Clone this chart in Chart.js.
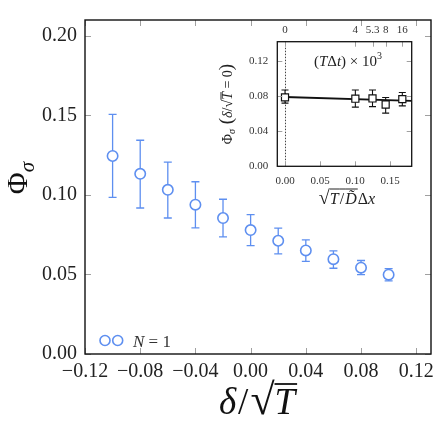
<!DOCTYPE html>
<html><head><meta charset="utf-8">
<script src="https://cdn.jsdelivr.net/npm/chart.js@4/dist/chart.umd.min.js"></script>
<style>
html,body{margin:0;padding:0;background:#fff;}
#wrap{position:relative;width:443px;height:433px;overflow:hidden;}
#main{position:absolute;left:0;top:0;}
#inset{position:absolute;left:200px;top:15px;}
</style></head><body>
<div id="wrap">
<canvas id="main" width="443" height="433"></canvas>
<canvas id="inset" width="230" height="200"></canvas>
</div>
<script>
// ---------- main panel data ----------
const delta = [-0.10, -0.08, -0.06, -0.04, -0.02, 0.00, 0.02, 0.04, 0.06, 0.08, 0.10];
const phi   = [0.1245, 0.1133, 0.1032, 0.0939, 0.0855, 0.0779, 0.0712, 0.0651, 0.0596, 0.0543, 0.0499];
const phiHi = [0.1506, 0.1344, 0.1206, 0.1083, 0.0973, 0.0876, 0.0791, 0.0718, 0.0648, 0.0588, 0.0537];
const phiLo = [0.0985, 0.0918, 0.0855, 0.0793, 0.0736, 0.0681, 0.0630, 0.0582, 0.0539, 0.0499, 0.0460];
const xTicks = [-0.12, -0.08, -0.04, 0.00, 0.04, 0.08, 0.12];
const xTickLabels = ["\u22120.12", "\u22120.08", "\u22120.04", "0.00", "0.04", "0.08", "0.12"];
const yTicks = [0.00, 0.05, 0.10, 0.15, 0.20];
const yTickLabels = ["0.00", "0.05", "0.10", "0.15", "0.20"];
const seriesLabel = "N = 1";

// ---------- inset data ----------
const insetX  = [0.000, 0.1005, 0.125, 0.1438, 0.1676];
const insetY  = [0.0785, 0.0770, 0.0773, 0.0704, 0.0766];
const insetHi = [0.0870, 0.0869, 0.0869, 0.0784, 0.0841];
const insetLo = [0.0720, 0.0674, 0.0680, 0.0606, 0.0689];
const insetTopLabels = ["0", "4", "5.3", "8", "16"];
const fitX = [0.000, 0.181];
const fitY = [0.0790, 0.0745];
const refLineX = 0;
const insetXTicks = [0.00, 0.05, 0.10, 0.15];
const insetXTickLabels = ["0.00", "0.05", "0.10", "0.15"];
const insetYTicks = [0.00, 0.04, 0.08, 0.12];
const insetYTickLabels = ["0.00", "0.04", "0.08", "0.12"];

const FONT = "'Liberation Serif', 'Times New Roman', serif";
const BLUE = '#5e8ff0';
const TICKC = '#a0a0a0';

function drawRich(ctx, segs, x, y, rot) {
  ctx.save();
  ctx.translate(x, y);
  ctx.rotate(rot);
  ctx.textAlign = 'left';
  ctx.textBaseline = 'alphabetic';
  let total = 0;
  segs.forEach(s => { ctx.font = s.font; s.w = ctx.measureText(s.text).width + (s.gap || 0); total += s.w; });
  let cx = -total / 2;
  const overs = [];
  segs.forEach(s => {
    ctx.font = s.font;
    ctx.fillText(s.text, cx, s.dy || 0);
    if (s.over !== undefined) overs.push([cx, cx + s.w, s.over]);
    cx += s.w;
  });
  overs.forEach(o => {
    ctx.beginPath(); ctx.moveTo(o[0], o[2]); ctx.lineTo(o[1], o[2]); ctx.stroke();
  });
  ctx.restore();
}

// ---------- main chart plugins ----------
const mainPlugin = {
  id: 'mainDeco',
  beforeDatasetsDraw(chart) {
    const {ctx, scales: {x, y}} = chart;
    ctx.save();
    ctx.strokeStyle = BLUE; ctx.lineWidth = 1.3;
    delta.forEach((d, i) => {
      const px = x.getPixelForValue(d);
      const pt = y.getPixelForValue(phiHi[i]);
      const pb = y.getPixelForValue(phiLo[i]);
      ctx.beginPath();
      ctx.moveTo(px, pt); ctx.lineTo(px, pb);
      ctx.moveTo(px - 4, pt); ctx.lineTo(px + 4, pt);
      ctx.moveTo(px - 4, pb); ctx.lineTo(px + 4, pb);
      ctx.stroke();
    });
    ctx.restore();
  },
  afterDraw(chart) {
    const {ctx, chartArea: a, scales: {x, y}} = chart;
    ctx.save();
    // inward tick marks
    ctx.strokeStyle = TICKC; ctx.lineWidth = 1;
    xTicks.forEach(v => {
      const px = Math.round(x.getPixelForValue(v)) + 0.5;
      ctx.beginPath();
      ctx.moveTo(px, a.bottom); ctx.lineTo(px, a.bottom - 6);
      ctx.moveTo(px, a.top); ctx.lineTo(px, a.top + 6);
      ctx.stroke();
    });
    yTicks.forEach(v => {
      const py = Math.round(y.getPixelForValue(v)) + 0.5;
      ctx.beginPath();
      ctx.moveTo(a.left, py); ctx.lineTo(a.left + 6, py);
      ctx.moveTo(a.right, py); ctx.lineTo(a.right - 6, py);
      ctx.stroke();
    });
    // frame
    ctx.strokeStyle = '#111'; ctx.lineWidth = 1.4;
    ctx.strokeRect(a.left, a.top, a.right - a.left, a.bottom - a.top);
    // legend
    const ly = a.bottom - 13.5;
    ctx.strokeStyle = BLUE; ctx.lineWidth = 1.6; ctx.fillStyle = '#fff';
    [a.left + 20, a.left + 32.7].forEach(cx => {
      ctx.beginPath(); ctx.arc(cx, ly, 5, 0, Math.PI * 2); ctx.fill(); ctx.stroke();
    });
    ctx.fillStyle = '#333';
    ctx.textAlign = 'left'; ctx.textBaseline = 'alphabetic';
    const parts = seriesLabel.split(' ');
    ctx.font = "italic 17px " + FONT;
    ctx.fillText(parts[0], a.left + 48, ly + 6.5);
    const wN = ctx.measureText(parts[0]).width;
    ctx.font = "17px " + FONT;
    ctx.fillText(' ' + parts.slice(1).join(' '), a.left + 48 + wN, ly + 6.5);
    // axis titles
    ctx.fillStyle = '#111'; ctx.strokeStyle = '#111'; ctx.lineWidth = 1.8;
    drawRich(ctx, [
      {text: 'δ', font: "italic 37px " + FONT, gap: 2},
      {text: '/', font: "37px " + FONT, gap: 2},
      {text: '√', font: "44px " + FONT},
      {text: 'T', font: "italic 37px " + FONT, over: -30, gap: 2}
    ], 258, 414, 0);
    drawRich(ctx, [
      {text: 'Φ', font: "30px " + FONT},
      {text: 'σ', font: "italic 21px " + FONT, dy: 7}
    ], 27, (a.top + a.bottom) / 2 - 9, -Math.PI / 2);
    ctx.restore();
  }
};

new Chart(document.getElementById('main'), {
  type: 'scatter',
  data: {
    datasets: [{
      label: seriesLabel,
      data: delta.map((d, i) => ({x: d, y: phi[i]})),
      pointStyle: 'circle',
      pointRadius: 5.2,
      pointBorderWidth: 1.6,
      pointBorderColor: BLUE,
      pointBackgroundColor: '#fff',
      showLine: false
    }]
  },
  options: {
    responsive: false, animation: false, devicePixelRatio: 1,
    layout: {padding: {left: 0, right: 12, top: 9, bottom: 0}},
    plugins: {legend: {display: false}, tooltip: {enabled: false}},
    scales: {
      x: {
        type: 'linear', min: -0.12, max: 0.1307,
        afterFit(s) { s.height = 79; },
        afterBuildTicks(s) { s.ticks = xTicks.map(v => ({value: v})); },
        ticks: {callback: (v, i) => xTickLabels[i], font: {family: FONT, size: 20}, color: '#222', padding: 6, maxRotation: 0, minRotation: 0, autoSkip: false},
        grid: {display: false, drawTicks: false},
        border: {display: false}
      },
      y: {
        type: 'linear', min: 0, max: 0.21,
        afterFit(s) { s.width = 85; },
        afterBuildTicks(s) { s.ticks = yTicks.map(v => ({value: v})); },
        ticks: {callback: (v, i) => yTickLabels[i], font: {family: FONT, size: 20}, color: '#222', padding: 8, autoSkip: false},
        grid: {display: false, drawTicks: false},
        border: {display: false}
      }
    }
  },
  plugins: [mainPlugin]
});

// ---------- inset ----------
const insetPlugin = {
  id: 'insetDeco',
  beforeDraw(chart) {
    const {ctx, chartArea: a} = chart;
    ctx.save(); ctx.fillStyle = '#fff';
    ctx.fillRect(a.left, a.top, a.right - a.left, a.bottom - a.top);
    ctx.restore();
  },
  beforeDatasetsDraw(chart) {
    const {ctx, chartArea: a, scales: {x, y}} = chart;
    ctx.save();
    // dotted reference line
    ctx.strokeStyle = '#444'; ctx.lineWidth = 1; ctx.setLineDash([1.5, 1.5]);
    const rx = Math.round(x.getPixelForValue(refLineX)) + 0.5;
    ctx.beginPath(); ctx.moveTo(rx, a.top); ctx.lineTo(rx, a.bottom); ctx.stroke();
    ctx.setLineDash([]);
    // error bars
    ctx.strokeStyle = '#111'; ctx.lineWidth = 1.1;
    insetX.forEach((v, i) => {
      const px = x.getPixelForValue(v);
      const pt = y.getPixelForValue(insetHi[i]);
      const pb = y.getPixelForValue(insetLo[i]);
      ctx.beginPath();
      ctx.moveTo(px, pt); ctx.lineTo(px, pb);
      ctx.moveTo(px - 3.5, pt); ctx.lineTo(px + 3.5, pt);
      ctx.moveTo(px - 3.5, pb); ctx.lineTo(px + 3.5, pb);
      ctx.stroke();
    });
    ctx.restore();
  },
  afterDraw(chart) {
    const {ctx, chartArea: a, scales: {x, y}} = chart;
    ctx.save();
    ctx.strokeStyle = TICKC; ctx.lineWidth = 1;
    insetXTicks.forEach(v => {
      const px = Math.round(x.getPixelForValue(v)) + 0.5;
      ctx.beginPath(); ctx.moveTo(px, a.bottom); ctx.lineTo(px, a.bottom - 5); ctx.stroke();
    });
    insetX.forEach(v => {
      const px = Math.round(x.getPixelForValue(v)) + 0.5;
      ctx.beginPath(); ctx.moveTo(px, a.top); ctx.lineTo(px, a.top + 5); ctx.stroke();
    });
    insetYTicks.forEach(v => {
      const py = Math.round(y.getPixelForValue(v)) + 0.5;
      ctx.beginPath();
      ctx.moveTo(a.left, py); ctx.lineTo(a.left + 5, py);
      ctx.moveTo(a.right, py); ctx.lineTo(a.right - 5, py);
      ctx.stroke();
    });
    ctx.strokeStyle = '#111'; ctx.lineWidth = 1.3;
    ctx.strokeRect(a.left, a.top, a.right - a.left, a.bottom - a.top);
    // annotation
    ctx.fillStyle = '#222'; ctx.strokeStyle = '#222'; ctx.lineWidth = 1;
    drawRich(ctx, [
      {text: '(', font: "15px " + FONT},
      {text: 'T', font: "italic 15px " + FONT},
      {text: 'Δ', font: "15px " + FONT},
      {text: 't', font: "italic 15px " + FONT},
      {text: ') × 10', font: "15px " + FONT},
      {text: '3', font: "10px " + FONT, dy: -7}
    ], 148, 51, 0);
    // inset x title
    drawRich(ctx, [
      {text: '√', font: "20px " + FONT},
      {text: 'T', font: "italic 16px " + FONT, over: -15, gap: 1},
      {text: '/', font: "16px " + FONT, over: -15, gap: 1},
      {text: 'D̃', font: "italic 16px " + FONT, over: -15, gap: 1},
      {text: 'Δ', font: "16px " + FONT},
      {text: 'x', font: "italic 16px " + FONT}
    ], 147, 189, 0);
    // inset y title
    drawRich(ctx, [
      {text: 'Φ', font: "14px " + FONT},
      {text: 'σ', font: "italic 10px " + FONT, dy: 3},
      {text: ' (', font: "19px " + FONT},
      {text: 'δ', font: "italic 14px " + FONT},
      {text: '/√', font: "14px " + FONT},
      {text: 'T', font: "italic 14px " + FONT, over: -11},
      {text: ' = 0', font: "14px " + FONT},
      {text: ')', font: "19px " + FONT}
    ], 32, 89, -Math.PI / 2);
    ctx.restore();
  }
};

new Chart(document.getElementById('inset'), {
  type: 'scatter',
  data: {
    datasets: [
      {
        label: 'inset',
        data: insetX.map((v, i) => ({x: v, y: insetY[i]})),
        pointStyle: 'rect', pointRadius: 5,
        pointBorderColor: '#111', pointBackgroundColor: '#fff', pointBorderWidth: 1.2,
        showLine: false
      },
      {
        label: 'fit',
        data: fitX.map((v, i) => ({x: v, y: fitY[i]})),
        showLine: true, borderColor: '#111', borderWidth: 1.8, pointRadius: 0, fill: false
      }
    ]
  },
  options: {
    responsive: false, animation: false, devicePixelRatio: 1,
    layout: {padding: {left: 0, right: 18.3, top: 0, bottom: 0}},
    plugins: {legend: {display: false}, tooltip: {enabled: false}},
    scales: {
      x: {
        type: 'linear', position: 'bottom', min: -0.011, max: 0.181,
        afterFit(s) { s.height = 48.7; },
        afterBuildTicks(s) { s.ticks = insetXTicks.map(v => ({value: v})); },
        ticks: {callback: (v, i) => insetXTickLabels[i], font: {family: FONT, size: 11}, color: '#333', padding: 8, maxRotation: 0, minRotation: 0, autoSkip: false},
        grid: {display: false, drawTicks: false}, border: {display: false}
      },
      x2: {
        type: 'linear', position: 'top', min: -0.011, max: 0.181,
        afterFit(s) { s.height = 26.7; },
        afterBuildTicks(s) { s.ticks = insetX.map(v => ({value: v})); },
        ticks: {callback: (v, i) => insetTopLabels[i], font: {family: FONT, size: 11}, color: '#333', padding: 5, maxRotation: 0, minRotation: 0, autoSkip: false},
        grid: {display: false, drawTicks: false}, border: {display: false}
      },
      y: {
        type: 'linear', min: 0, max: 0.142,
        afterFit(s) { s.width = 77.3; },
        afterBuildTicks(s) { s.ticks = insetYTicks.map(v => ({value: v})); },
        ticks: {callback: (v, i) => insetYTickLabels[i], font: {family: FONT, size: 11}, color: '#333', padding: 9, autoSkip: false},
        grid: {display: false, drawTicks: false}, border: {display: false}
      }
    }
  },
  plugins: [insetPlugin]
});
</script>
</body></html>
